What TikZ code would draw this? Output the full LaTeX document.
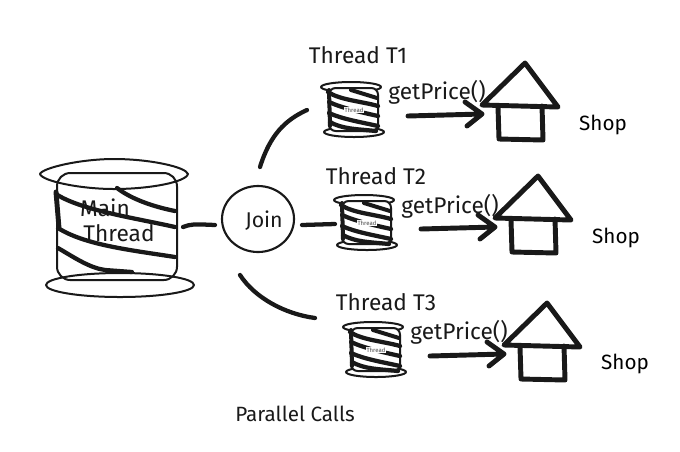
\documentclass[tikz,border=0pt]{standalone}
\usepackage{fontspec}
\usetikzlibrary{shapes.geometric}
\setmainfont{Fira Sans}
\begin{document}
\begin{tikzpicture}[x=0.75pt,y=-0.75pt,line cap=round,line join=round,
  thin stroke/.style={draw=black!90,line width=1.5pt},
  mid stroke/.style={draw=black!90,line width=3.2pt},
  bold stroke/.style={draw=black!90,line width=3.7pt},
  label text/.style={font=\fontsize{17}{19}\selectfont,text=black!90,inner sep=0pt},
  shop text/.style={font=\fontsize{15.5}{17}\selectfont,text=black,inner sep=0pt},
  small stroke/.style={draw=black!90,line width=1.5pt},
  pics/mini thread/.style={code={
    \draw[small stroke,line width=1.5pt,fill=white] (351,87) ellipse [x radius=30,y radius=5];
    \draw[small stroke,line width=1.5pt,fill=white] (354,132) ellipse [x radius=30,y radius=5];
    \draw[small stroke,fill=white,rounded corners=5pt] (329,88) rectangle (378,131);
    \draw[small stroke,line width=3pt] (351,90) -- (377,98);
    \draw[small stroke,line width=3.2pt] (328,92) .. controls (340,100) and (360,101) .. (378,106);
    \draw[small stroke,line width=3.2pt] (329,102) .. controls (342,108) and (360,112) .. (378,116);
    \draw[small stroke,line width=3.2pt] (329,113) .. controls (342,119) and (360,122) .. (378,126);
    \draw[small stroke,line width=3.2pt] (330,122) .. controls (342,129) and (356,129) .. (376,131);
    \draw[small stroke,line width=3pt] (329,90) -- (330,126);
    \node[font=\fontsize{4.5}{5}\selectfont,inner sep=0.4pt,fill=white,text=black!70] (-tag) at (354,110) {Thread};
  }},
  pics/shop/.style={code={
    \draw[bold stroke] (482,105) -- (525,63) -- (558,107) -- cycle;
    \draw[bold stroke] (498,107) -- (499,139) -- (543,140) -- (542,106);
    \coordinate (-door) at (482,114);
  }}]
\useasboundingbox (0,0) rectangle (680,451);
% main thread
\draw[thin stroke] (40,174) .. controls (42,168) and (80,159) .. (114,159) .. controls (150,159) and (186,167) .. (188,174) .. controls (186,182) and (150,189) .. (114,189) .. controls (80,189) and (42,181) .. (40,174) -- cycle;
\draw[thin stroke] (120,285) ellipse [x radius=74,y radius=12];
\draw[thin stroke,rounded corners=10pt] (57,173) rectangle (177,280);
\draw[mid stroke] (117,188) .. controls (130,198) and (150,206) .. (175,211);
\draw[mid stroke] (56,194) .. controls (80,210) and (135,218) .. (175,227);
\draw[mid stroke] (58,228) .. controls (85,245) and (130,250) .. (175,257);
\draw[mid stroke] (58,248) .. controls (75,258) and (90,268) .. (105,270) -- (132,272);
\draw[bold stroke] (56,192) -- (59,228);
\node[label text] (mainA) at (105,208) {Main};
\node[label text] (mainB) at (119,233) {Thread};
\coordinate (mainOut) at (183,227);
% join
\node[draw=black!90,line width=1.6pt,ellipse,minimum width=54pt,minimum height=49.5pt,inner sep=0pt] (join) at (258,219) {};
\node[font=\fontsize{16}{18}\selectfont,inner sep=0pt,text=black!90] (joinText) at (264,221) {Join};
\coordinate (joinIn) at (215,225);
\coordinate (upA) at (260,167);
\coordinate (upB) at (307,110);
\coordinate (midA) at (302,225);
\coordinate (midB) at (335,224);
\coordinate (lowA) at (240,275);
\coordinate (lowB) at (315,318);
\draw[mid stroke] (mainOut) .. controls (192,224) .. (joinIn);
\draw[mid stroke] (upA) .. controls (270,135) and (285,120) .. (upB);
\draw[mid stroke] (midA) -- (midB);
\draw[mid stroke] (lowA) .. controls (255,298) and (285,314) .. (lowB);
% threads and shops
\pic (t1) {mini thread};
\pic[xshift=9.75pt,yshift=-84.75pt] (t2) {mini thread};
\pic[xshift=16.5pt,yshift=-180pt] (t3) {mini thread};
\pic (s1) {shop};
\pic[xshift=9.75pt,yshift=-84.75pt] (s2) {shop};
\pic[xshift=16.5pt,yshift=-180pt] (s3) {shop};
\coordinate (a1) at (408,116);
\coordinate (a2) at (421,229);
\coordinate (a3) at (430,356);
\draw[bold stroke] (a1) -- (s1-door) (465,102) -- (s1-door) -- (467,126);
\draw[bold stroke] (a2) -- (s2-door) (478,215) -- (s2-door) -- (480,239);
\draw[bold stroke] (a3) -- (s3-door) (487,342) -- (s3-door) -- (489,366);
% labels
\node[label text] (lt1) at (358,55) {Thread T1};
\node[label text] (lt2) at (376,176) {Thread T2};
\node[label text] (lt3) at (386,302) {Thread T3};
\node[label text] (g1) at (437,92) {getPrice()};
\node[label text] (g2) at (450,206) {getPrice()};
\node[label text] (g3) at (459,332) {getPrice()};
\node[shop text] (shop1) at (603,125) {Shop};
\node[shop text] (shop2) at (616,238) {Shop};
\node[shop text] (shop3) at (625,364) {Shop};
\node[font=\fontsize{15.5}{18}\selectfont,inner sep=0pt,text=black!90] (calls) at (295,414) {Parallel Calls};
\end{tikzpicture}
\end{document}
